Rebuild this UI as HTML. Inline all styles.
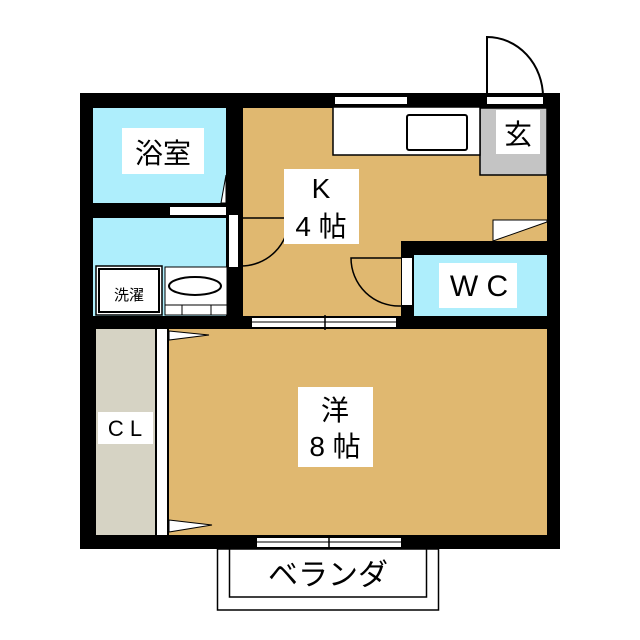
<!DOCTYPE html>
<html><head><meta charset="utf-8"><style>
html,body{margin:0;padding:0;background:#fff;}
svg{display:block;}
text{font-family:"Liberation Sans","Noto Sans CJK JP",sans-serif;fill:#000;}
</style></head><body>
<svg width="640" height="640" viewBox="0 0 640 640" xmlns="http://www.w3.org/2000/svg">
<rect x="80" y="93" width="480" height="456" fill="#000"/>
<rect x="93" y="108" width="133" height="95" fill="#aeeefc"/>
<rect x="93" y="218" width="133" height="98" fill="#aeeefc"/>
<rect x="243" y="108" width="304" height="208" fill="#e0b870"/>
<rect x="480" y="108" width="67" height="67" fill="#c4c4c4" stroke="#000" stroke-width="1.5"/>
<rect x="401" y="241" width="159" height="88" fill="#000"/>
<rect x="414" y="255" width="133" height="61" fill="#aeeefc"/>
<rect x="169" y="329" width="378" height="206" fill="#e0b870"/>
<rect x="96" y="329" width="59" height="206" fill="#d6d3c4"/>
<rect x="157" y="329" width="10" height="206" fill="#fff"/>
<polygon points="169,331 209,335 169,340" fill="#fff" stroke="#000" stroke-width="1"/>
<polygon points="169,520 212,525 169,532" fill="#fff" stroke="#000" stroke-width="1"/>
<rect x="333" y="107" width="147" height="48" fill="#fff" stroke="#000" stroke-width="1.5"/>
<rect x="407" y="115" width="60" height="35" rx="2" fill="#fff" stroke="#000" stroke-width="2"/>
<rect x="335" y="97" width="72" height="7" fill="#fff"/>
<rect x="487" y="97" width="56" height="7" fill="#fff"/>
<path d="M487,97 L487,37 A56,60 0 0 1 543,97" fill="none" stroke="#000" stroke-width="2"/>
<polygon points="493,220 547,220 547,222 493,241" fill="#fff" stroke="#000" stroke-width="1"/>
<rect x="170" y="207" width="56" height="8" fill="#fff"/>
<polygon points="221,203 226,175 226,203" fill="#fff" stroke="#000" stroke-width="1"/>
<rect x="229" y="215" width="9" height="52" fill="#fff"/>
<path d="M241,266 A48,48 0 0 0 289,218 L241,218" fill="none" stroke="#000" stroke-width="1.5"/>
<rect x="402" y="258" width="10" height="47" fill="#fff"/>
<path d="M401,306 A48,48 0 0 1 351,258 L401,258" fill="none" stroke="#000" stroke-width="1.5"/>
<rect x="96" y="266" width="66" height="49" fill="#fff" stroke="#000" stroke-width="1.5"/>
<rect x="99" y="269" width="60" height="43" fill="#fff" stroke="#000" stroke-width="2"/>
<text x="129" y="300" font-size="15" text-anchor="middle">洗濯</text>
<rect x="165" y="267" width="62" height="48" fill="#fff" stroke="#000" stroke-width="1"/>
<ellipse cx="195" cy="286" rx="26" ry="9" fill="#fff" stroke="#000" stroke-width="2"/>
<line x1="165" y1="305" x2="227" y2="305" stroke="#000" stroke-width="1"/>
<line x1="182" y1="305" x2="182" y2="315" stroke="#000" stroke-width="1"/>
<line x1="211" y1="305" x2="211" y2="315" stroke="#000" stroke-width="1"/>
<rect x="252" y="318" width="144" height="9" fill="#fff"/>
<line x1="252" y1="322" x2="396" y2="322" stroke="#000" stroke-width="1"/>
<line x1="325" y1="315" x2="325" y2="330" stroke="#000" stroke-width="1.5"/>
<rect x="257" y="538" width="144" height="9" fill="#fff"/>
<line x1="257" y1="542" x2="401" y2="542" stroke="#000" stroke-width="1"/>
<line x1="329" y1="535" x2="329" y2="549" stroke="#000" stroke-width="1.5"/>
<rect x="217.5" y="549" width="221" height="61" fill="#fff" stroke="#000" stroke-width="1.5"/>
<rect x="229.5" y="549" width="197" height="48" fill="#fff" stroke="#000" stroke-width="1.5"/>
<text x="328" y="585" font-size="30" text-anchor="middle">ベランダ</text>
<rect x="122" y="128" width="82" height="46" fill="#fff"/>
<text x="163" y="163" font-size="28" text-anchor="middle">浴室</text>
<rect x="284" y="169" width="75" height="75" fill="#fff"/>
<text x="321" y="198" font-size="28" text-anchor="middle">K</text>
<text x="321" y="236" font-size="28" text-anchor="middle">4 帖</text>
<rect x="496" y="110" width="44" height="44" fill="#fff"/>
<text x="518" y="144" font-size="28" text-anchor="middle">玄</text>
<rect x="439" y="263" width="78" height="45" fill="#fff"/>
<text x="479" y="296" font-size="30" text-anchor="middle">W C</text>
<rect x="98" y="412" width="55" height="32" fill="#fff"/>
<text x="125" y="436" font-size="22" text-anchor="middle">C L</text>
<rect x="298" y="387" width="75" height="80" fill="#fff"/>
<text x="335" y="420" font-size="28" text-anchor="middle">洋</text>
<text x="335" y="456" font-size="28" text-anchor="middle">8 帖</text>
</svg>
</body></html>
